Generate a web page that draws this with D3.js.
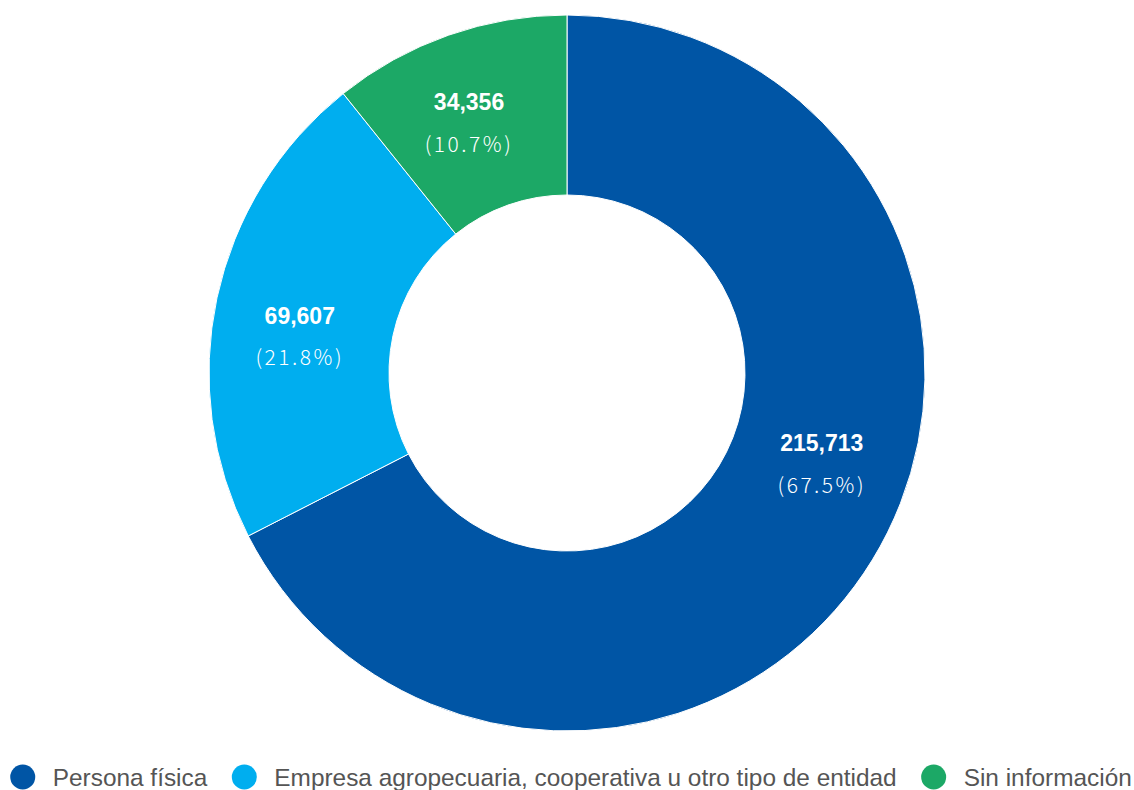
<!DOCTYPE html>
<html>
<head>
<meta charset="utf-8">
<script src="https://cdn.jsdelivr.net/npm/d3@7"></script>
<style>
  body { margin: 0; background: #fff; }
  svg { display: block; }
</style>
</head>
<body>
<svg id="chart" width="1134" height="790"></svg>
<script>
// chart data
const categories = ["Persona física", "Empresa agropecuaria, cooperativa u otro tipo de entidad", "Sin información"];
const values = [215713, 69607, 34356];
const percents = ["67.5%", "21.8%", "10.7%"];
const colors = ["#0055a5", "#00aeef", "#1ca866"];

const svg = d3.select("#chart");
const width = 1134;
const cx = 567, cy = 373;
const outerR = 358, innerR = 178;

const data = categories.map((c, i) => ({ name: c, value: values[i], pct: percents[i], color: colors[i] }));

const pie = d3.pie().value(d => d.value).sort(null);
const arc = d3.arc().innerRadius(innerR).outerRadius(outerR);

const g = svg.append("g").attr("transform", `translate(${cx},${cy})`);
const arcs = pie(data);

g.selectAll("path")
  .data(arcs)
  .enter()
  .append("path")
  .attr("d", arc)
  .attr("fill", d => d.data.color)
  .attr("stroke", "#fff")
  .attr("stroke-width", 1);

// labels sit a bit before the middle of each slice
const labelR = 270;
const labels = g.selectAll("g.lbl")
  .data(arcs)
  .enter()
  .append("g")
  .attr("class", "lbl")
  .attr("transform", d => {
    const a = d.startAngle + 0.45 * (d.endAngle - d.startAngle);
    return `translate(${labelR * Math.sin(a)},${-labelR * Math.cos(a)})`;
  });

labels.append("text")
  .attr("y", -19)
  .attr("dy", "0.35em")
  .attr("text-anchor", "middle")
  .attr("fill", "#fff")
  .style("font-family", "'Liberation Sans', Arial, sans-serif")
  .style("font-weight", "bold")
  .style("font-size", "23px")
  .text(d => d3.format(",")(d.data.value));

labels.append("text")
  .attr("y", 23)
  .attr("dy", "0.35em")
  .attr("text-anchor", "middle")
  .attr("fill", "#fff")
  .style("font-family", "'Noto Sans CJK KR', sans-serif")
  .style("font-weight", 300)
  .style("font-size", "21px")
  .style("letter-spacing", "2.5px")
  .text(d => "(" + d.data.pct + ")");

// legend
const legend = svg.append("g").attr("transform", "translate(0,777)");
const items = legend.selectAll("g")
  .data(data)
  .enter()
  .append("g");

items.append("circle")
  .attr("r", 12.5)
  .attr("fill", d => d.color);

items.append("text")
  .attr("x", 30)
  .attr("dy", "0.35em")
  .attr("fill", "#555")
  .style("font-family", "'Liberation Sans', Arial, sans-serif")
  .style("font-size", "24.4px")
  .text(d => d.name);

let x = 0;
const xs = [];
items.each(function () {
  const w = d3.select(this).select("text").node().getComputedTextLength();
  xs.push(x);
  x += 30 + w + 37;
});
const total = x - 37 + 12.5;
const start = (width - total) / 2 + 12.5 + 4;
items.attr("transform", (d, i) => `translate(${start + xs[i]},0)`);
</script>
</body>
</html>
